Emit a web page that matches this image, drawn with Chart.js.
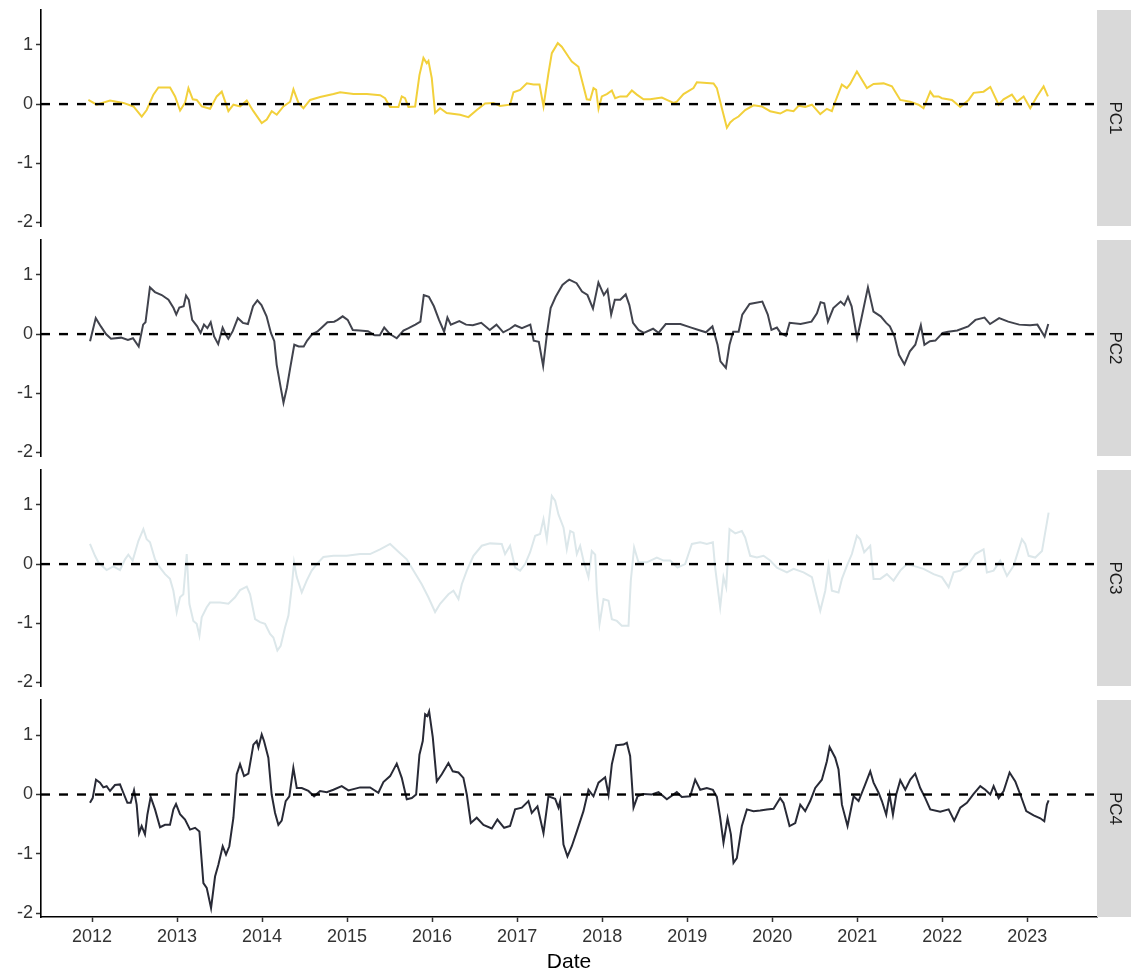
<!DOCTYPE html>
<html lang="en">
<head>
    <meta charset="UTF-8">
    <title>PC1 - PC4</title>
    <script src="https://cdn.jsdelivr.net/npm/chart.js"></script>
    <style>
        body { margin: 0; background: #ffffff; }
        #wrap { position: relative; width: 1131px; height: 978px; overflow: hidden; }
        .panel { position: absolute; left: 0; width: 1131px; }
    </style>
</head>
<body>
    <div id="wrap">
        <div class="panel" id="p1"><canvas id="c1"></canvas></div>
        <div class="panel" id="p2"><canvas id="c2"></canvas></div>
        <div class="panel" id="p3"><canvas id="c3"></canvas></div>
        <div class="panel" id="p4"><canvas id="c4"></canvas></div>
    </div>

    <script>
        // axis ranges and ticks
        const xMin = 2011.40, xMax = 2023.82;
        const yMin = -2.06, yMax = 1.59;
        const yTicks = [-2, -1, 0, 1];
        const xTicks = [2012, 2013, 2014, 2015, 2016, 2017, 2018, 2019, 2020, 2021, 2022, 2023];
        const panelNames = ['PC1', 'PC2', 'PC3', 'PC4'];
        const lineColors = ['#f2d03b', '#41434d', '#dce7ea', '#282a36'];

        // dates are decimal years
        const pc1Dates = [
            2011.957, 2012.055, 2012.212, 2012.369, 2012.487, 2012.585, 2012.643, 2012.722, 2012.781, 2012.918,
            2012.977, 2013.036, 2013.094, 2013.134, 2013.185, 2013.232, 2013.291, 2013.389, 2013.467, 2013.526,
            2013.604, 2013.663, 2013.742, 2013.820, 2013.898, 2013.996, 2014.055, 2014.114, 2014.173, 2014.251,
            2014.330, 2014.369, 2014.428, 2014.487, 2014.565, 2014.683, 2014.840, 2014.918, 2015.075, 2015.232,
            2015.389,
            2015.447, 2015.506, 2015.604, 2015.643, 2015.682, 2015.721, 2015.800, 2015.851, 2015.898, 2015.937,
            2015.957, 2015.996, 2016.035, 2016.094, 2016.172, 2016.329, 2016.427, 2016.525, 2016.623, 2016.721,
            2016.800, 2016.917, 2016.957, 2017.035, 2017.114, 2017.192, 2017.263, 2017.310, 2017.368, 2017.408,
            2017.478, 2017.525, 2017.604, 2017.643, 2017.721, 2017.780, 2017.819, 2017.859, 2017.898, 2017.929,
            2017.957, 2017.996, 2018.055, 2018.114, 2018.153, 2018.212, 2018.290, 2018.349, 2018.408, 2018.486,
            2018.565, 2018.643, 2018.702, 2018.761, 2018.839, 2018.878, 2018.957, 2019.074, 2019.114, 2019.310,
            2019.349, 2019.408, 2019.467, 2019.506, 2019.545, 2019.604, 2019.682, 2019.780,
            2019.878, 2019.976, 2020.094, 2020.172, 2020.251, 2020.310, 2020.388, 2020.467, 2020.565, 2020.643,
            2020.702, 2020.741, 2020.819, 2020.878, 2020.917, 2020.996, 2021.055, 2021.114, 2021.192, 2021.310,
            2021.408, 2021.447, 2021.506, 2021.623, 2021.721, 2021.780, 2021.859, 2021.898, 2021.957, 2021.996,
            2022.114, 2022.212, 2022.310, 2022.369, 2022.486, 2022.565, 2022.663, 2022.721, 2022.819, 2022.878,
            2022.957, 2023.035, 2023.114, 2023.192, 2023.243
        ];
        const pc1Values = [
            0.07, -0.01, 0.06, 0.02, -0.04, -0.21, -0.10, 0.16, 0.28, 0.28,
            0.13, -0.11, 0.02, 0.27, 0.08, 0.07, -0.04, -0.08, 0.13, 0.21,
            -0.12, -0.01, -0.04, 0.06, -0.12, -0.32, -0.26, -0.12, -0.18, -0.04,
            0.04, 0.25, 0.02, -0.07, 0.07, 0.12, 0.17, 0.20, 0.17, 0.17,
            0.15,
            0.10, -0.05, -0.05, 0.13, 0.10, -0.05, -0.04, 0.49, 0.78, 0.69,
            0.73, 0.44, -0.15, -0.07, -0.15, -0.18, -0.22, -0.10, 0.01, 0.02,
            -0.03, -0.01, 0.20, 0.24, 0.35, 0.33, 0.33, -0.04, 0.52, 0.86,
            1.03, 0.97, 0.80, 0.72, 0.63, 0.30, 0.08, 0.07, 0.27, 0.24,
            -0.08, 0.13, 0.17, 0.23, 0.10, 0.13, 0.13, 0.23, 0.16, 0.08,
            0.08, 0.10, 0.11, 0.07, 0.02, 0.04, 0.17, 0.27, 0.37, 0.35,
            0.27, -0.07, -0.40, -0.31, -0.26, -0.21, -0.10, -0.02,
            -0.04, -0.12, -0.16, -0.10, -0.12, -0.03, -0.05, -0.01, -0.17, -0.08,
            -0.12, 0.04, 0.33, 0.27, 0.34, 0.55, 0.41, 0.27, 0.34, 0.35,
            0.30, 0.21, 0.07, 0.04, -0.01, -0.07, 0.21, 0.13, 0.13, 0.10,
            0.07, -0.05, 0.07, 0.19, 0.21, 0.29, -0.01, 0.08, 0.16, 0.04,
            0.13, -0.07, 0.13, 0.30, 0.13
        ];

        const pc2Dates = [
            2011.977, 2012.044, 2012.104, 2012.164, 2012.223, 2012.343, 2012.422, 2012.482, 2012.549, 2012.601,
            2012.629, 2012.681, 2012.740, 2012.820, 2012.899, 2012.959, 2012.991, 2013.027, 2013.078, 2013.106,
            2013.138, 2013.178, 2013.237, 2013.277, 2013.317, 2013.357, 2013.396, 2013.436, 2013.484, 2013.536,
            2013.575, 2013.603, 2013.655, 2013.715, 2013.774, 2013.834, 2013.894, 2013.945, 2013.993, 2014.053,
            2014.104, 2014.144, 2014.172, 2014.220, 2014.252, 2014.291, 2014.331, 2014.379, 2014.431, 2014.490,
            2014.530, 2014.590, 2014.649, 2014.709, 2014.769, 2014.848, 2014.888, 2014.948, 2015.007, 2015.067,
            2015.147, 2015.246, 2015.325, 2015.385, 2015.437, 2015.504, 2015.584, 2015.663, 2015.723, 2015.803,
            2015.862, 2015.902, 2015.962, 2016.021, 2016.081, 2016.141, 2016.180, 2016.220, 2016.320, 2016.399,
            2016.479, 2016.578, 2016.678, 2016.757, 2016.837, 2016.916, 2016.976, 2017.056, 2017.155, 2017.195,
            2017.255, 2017.306, 2017.354, 2017.394, 2017.453, 2017.533, 2017.593,
            2017.613, 2017.699, 2017.763, 2017.827, 2017.892, 2017.956, 2018.020, 2018.063, 2018.106, 2018.149,
            2018.213, 2018.277, 2018.320, 2018.363, 2018.427, 2018.491, 2018.599, 2018.663, 2018.748, 2018.920,
            2019.048, 2019.134, 2019.220, 2019.297, 2019.357, 2019.391, 2019.455, 2019.498, 2019.541, 2019.605,
            2019.648, 2019.734, 2019.884, 2019.948, 2019.991, 2020.055, 2020.098, 2020.162, 2020.205, 2020.334,
            2020.462, 2020.526, 2020.569, 2020.612, 2020.655, 2020.719, 2020.805, 2020.848, 2020.891, 2020.934,
            2020.998, 2021.041, 2021.126, 2021.191, 2021.276, 2021.341, 2021.384, 2021.439, 2021.491, 2021.555,
            2021.619, 2021.683, 2021.748, 2021.790, 2021.855, 2021.919, 2022.005, 2022.069, 2022.176, 2022.305,
            2022.390, 2022.497, 2022.562, 2022.669, 2022.776, 2022.905, 2023.033, 2023.119, 2023.204, 2023.247
        ];
        const pc2Values = [
            -0.12, 0.27, 0.13, 0.00, -0.08, -0.06, -0.10, -0.07, -0.21, 0.16,
            0.20, 0.79, 0.71, 0.66, 0.58, 0.44, 0.33, 0.45, 0.47, 0.65,
            0.58, 0.24, 0.13, 0.02, 0.16, 0.10, 0.20, -0.04, -0.17, 0.11,
            -0.01, -0.08, 0.05, 0.27, 0.19, 0.17, 0.47, 0.57, 0.49, 0.30,
            0.02, -0.12, -0.52, -0.91, -1.16, -0.91, -0.57, -0.18, -0.21, -0.21,
            -0.11, 0.00, 0.04, 0.12, 0.20, 0.21, 0.24, 0.30, 0.24, 0.07,
            0.06, 0.05, -0.02, -0.02, 0.11, 0.00, -0.07, 0.06, 0.10, 0.16,
            0.21, 0.66, 0.63, 0.47, 0.24, 0.04, 0.28, 0.16, 0.22, 0.16,
            0.15, 0.19, 0.07, 0.16, 0.03, 0.09, 0.15, 0.10, 0.16, -0.11,
            -0.13, -0.54, 0.04, 0.44, 0.63, 0.83, 0.90,
            0.92, 0.86, 0.72, 0.66, 0.43, 0.87, 0.66, 0.75, 0.33, 0.58,
            0.58, 0.67, 0.49, 0.19, 0.07, 0.02, 0.09, 0.02, 0.17, 0.17,
            0.11, 0.07, 0.03, 0.13, -0.18, -0.46, -0.57, -0.18, 0.04, 0.04,
            0.33, 0.51, 0.55, 0.33, 0.07, 0.11, 0.02, -0.03, 0.19, 0.17,
            0.21, 0.35, 0.54, 0.52, 0.21, 0.44, 0.55, 0.49, 0.63, 0.47,
            -0.07, 0.21, 0.79, 0.38, 0.30, 0.19, 0.13, -0.04, -0.35, -0.51,
            -0.29, -0.18, 0.15, -0.18, -0.12, -0.11, 0.02, 0.04, 0.06, 0.13,
            0.24, 0.28, 0.17, 0.27, 0.21, 0.16, 0.15, 0.16, -0.04, 0.17
        ];

        const pc3Dates = [
            2011.976, 2012.035, 2012.074, 2012.172, 2012.251, 2012.329, 2012.388, 2012.427, 2012.478, 2012.545,
            2012.604, 2012.643, 2012.682, 2012.741, 2012.800, 2012.859, 2012.917, 2012.957, 2012.996, 2013.035,
            2013.074, 2013.114, 2013.145, 2013.192, 2013.231, 2013.263, 2013.290, 2013.349, 2013.388, 2013.506,
            2013.604, 2013.682, 2013.741, 2013.820, 2013.859, 2013.918, 2013.976, 2014.035, 2014.094, 2014.133,
            2014.180, 2014.219, 2014.270, 2014.310, 2014.349, 2014.376, 2014.408, 2014.467, 2014.525, 2014.584,
            2014.643, 2014.721, 2014.839, 2014.996, 2015.153, 2015.270, 2015.388, 2015.506, 2015.604, 2015.702,
            2015.780, 2015.878, 2015.956, 2016.035, 2016.094, 2016.192, 2016.251, 2016.310, 2016.349, 2016.408,
            2016.486, 2016.584, 2016.682, 2016.819, 2016.858, 2016.917, 2016.976, 2017.035, 2017.094, 2017.153,
            2017.212, 2017.270, 2017.310, 2017.349, 2017.408, 2017.447, 2017.486,
            2017.545, 2017.584, 2017.624, 2017.663, 2017.702, 2017.741, 2017.780, 2017.839, 2017.878, 2017.918,
            2017.937, 2017.969, 2018.016, 2018.075, 2018.114, 2018.173, 2018.231, 2018.310, 2018.337, 2018.376,
            2018.427, 2018.525, 2018.643, 2018.722, 2018.800, 2018.886, 2018.976, 2019.055, 2019.153, 2019.231,
            2019.302, 2019.329, 2019.388, 2019.427, 2019.459, 2019.498, 2019.565, 2019.643, 2019.682, 2019.741,
            2019.820, 2019.898, 2019.976, 2020.055, 2020.173, 2020.251, 2020.369, 2020.467, 2020.506, 2020.565,
            2020.624, 2020.663, 2020.702, 2020.780, 2020.820, 2020.878, 2020.937, 2020.996, 2021.035, 2021.082,
            2021.153, 2021.192, 2021.271, 2021.349, 2021.427, 2021.506, 2021.584, 2021.663, 2021.780, 2021.898,
            2021.996, 2022.075, 2022.133, 2022.212, 2022.310, 2022.388, 2022.486, 2022.525, 2022.604, 2022.682,
            2022.761, 2022.839, 2022.937, 2022.976, 2023.016, 2023.094, 2023.173, 2023.251
        ];
        const pc3Values = [
            0.34, 0.14, 0.03, -0.10, -0.04, -0.10, 0.08, 0.16, 0.06, 0.39,
            0.59, 0.42, 0.37, 0.08, -0.06, -0.17, -0.25, -0.45, -0.81, -0.56,
            -0.51, 0.17, -0.67, -0.96, -1.01, -1.21, -0.90, -0.73, -0.65, -0.65,
            -0.67, -0.56, -0.44, -0.38, -0.51, -0.93, -0.98, -1.01, -1.18, -1.24,
            -1.46, -1.38, -1.07, -0.87, -0.39, 0.03, -0.22, -0.48, -0.28, -0.11,
            0.00, 0.12, 0.14, 0.14, 0.17, 0.17, 0.25, 0.34, 0.21, 0.08,
            -0.11, -0.34, -0.56, -0.81, -0.67, -0.51, -0.45, -0.59, -0.34, -0.11,
            0.14, 0.31, 0.35, 0.34, 0.17, 0.31, -0.06, -0.11, 0.00, 0.20,
            0.48, 0.51, 0.76, 0.42, 1.15, 1.07, 0.84,
            0.62, 0.25, 0.56, 0.53, 0.17, 0.31, 0.06, -0.22, 0.22, 0.16,
            -0.45, -1.01, -0.59, -0.62, -0.93, -0.96, -1.04, -1.04, -0.28, 0.28,
            0.03, 0.03, 0.11, 0.06, 0.06, -0.06, 0.00, 0.34, 0.37, 0.34,
            0.37, -0.06, -0.73, -0.22, -0.39, 0.59, 0.52, 0.56, 0.45, 0.14,
            0.11, 0.14, 0.06, -0.06, -0.14, -0.08, -0.14, -0.22, -0.45, -0.79,
            -0.45, -0.03, -0.45, -0.48, -0.25, -0.03, 0.17, 0.48, 0.42, 0.20,
            0.31, -0.25, -0.25, -0.17, -0.28, -0.11, 0.00, -0.03, -0.08, -0.17,
            -0.22, -0.39, -0.14, -0.11, 0.00, 0.17, 0.25, -0.14, -0.11, 0.06,
            -0.20, -0.03, 0.42, 0.34, 0.14, 0.11, 0.22, 0.87
        ];

        const pc4Dates = [
            2011.976, 2012.008, 2012.047, 2012.094, 2012.133, 2012.172, 2012.212, 2012.270, 2012.329, 2012.368,
            2012.416, 2012.455, 2012.494, 2012.525, 2012.553, 2012.584, 2012.623, 2012.651, 2012.690, 2012.741,
            2012.800, 2012.859, 2012.917, 2012.957, 2012.988, 2013.035, 2013.094, 2013.153, 2013.212, 2013.263,
            2013.310, 2013.349, 2013.400, 2013.447, 2013.486, 2013.537, 2013.576, 2013.615, 2013.663, 2013.702,
            2013.741, 2013.788, 2013.839, 2013.898, 2013.937, 2013.957, 2013.996, 2014.023, 2014.074, 2014.113,
            2014.153, 2014.192, 2014.231, 2014.278, 2014.321, 2014.368, 2014.408, 2014.467, 2014.545, 2014.612,
            2014.682, 2014.761, 2014.839, 2014.937, 2015.015, 2015.153, 2015.270, 2015.368, 2015.427, 2015.506,
            2015.584, 2015.643, 2015.702, 2015.761, 2015.812, 2015.851, 2015.890, 2015.918, 2015.945, 2015.965,
            2016.008, 2016.055, 2016.114, 2016.192, 2016.243, 2016.310, 2016.368, 2016.408, 2016.455, 2016.525,
            2016.604, 2016.702, 2016.768, 2016.847, 2016.917, 2016.976, 2017.055, 2017.133, 2017.172, 2017.239,
            2017.310, 2017.368, 2017.447, 2017.486,
            2017.506, 2017.545, 2017.592, 2017.643, 2017.702, 2017.780, 2017.839, 2017.898, 2017.957, 2018.035,
            2018.075, 2018.114, 2018.165, 2018.251, 2018.290, 2018.329, 2018.369, 2018.416, 2018.486, 2018.584,
            2018.663, 2018.761, 2018.878, 2018.937, 2019.035, 2019.094, 2019.153, 2019.231, 2019.302, 2019.349,
            2019.388, 2019.427, 2019.475, 2019.514, 2019.545, 2019.584, 2019.643, 2019.702, 2019.780, 2019.859,
            2019.937, 2020.016, 2020.094, 2020.133, 2020.204, 2020.271, 2020.330, 2020.388, 2020.447, 2020.506,
            2020.584, 2020.643, 2020.675, 2020.741, 2020.780, 2020.820, 2020.886, 2020.957, 2021.016, 2021.094,
            2021.153, 2021.192, 2021.251, 2021.290, 2021.341, 2021.380, 2021.420, 2021.459, 2021.506, 2021.565,
            2021.624, 2021.682, 2021.741, 2021.800, 2021.859, 2021.976, 2022.075, 2022.141, 2022.212, 2022.290,
            2022.369, 2022.447, 2022.506, 2022.565, 2022.604, 2022.663, 2022.722, 2022.792, 2022.859, 2022.918,
            2022.988, 2023.075, 2023.153, 2023.200, 2023.231, 2023.251
        ];
        const pc4Values = [
            -0.14, -0.06, 0.25, 0.20, 0.12, 0.14, 0.06, 0.16, 0.17, 0.03,
            -0.14, -0.14, 0.07, -0.17, -0.65, -0.53, -0.67, -0.34, -0.04, -0.25,
            -0.55, -0.51, -0.51, -0.25, -0.16, -0.33, -0.42, -0.59, -0.56, -0.62,
            -1.49, -1.57, -1.91, -1.38, -1.18, -0.87, -1.01, -0.87, -0.39, 0.34,
            0.51, 0.31, 0.35, 0.84, 0.90, 0.79, 1.01, 0.90, 0.62, 0.00,
            -0.31, -0.51, -0.44, -0.11, -0.03, 0.45, 0.11, 0.11, 0.06, -0.03,
            0.06, 0.04, 0.08, 0.14, 0.07, 0.12, 0.12, 0.03, 0.21, 0.31,
            0.52, 0.28, -0.08, -0.06, 0.00, 0.67, 0.90, 1.35, 1.32, 1.40,
            0.96, 0.22, 0.34, 0.53, 0.39, 0.37, 0.28, 0.00, -0.48, -0.39,
            -0.51, -0.57, -0.42, -0.56, -0.53, -0.25, -0.22, -0.11, -0.31, -0.20,
            -0.65, -0.03, -0.07, -0.22,
            -0.11, -0.84, -1.04, -0.87, -0.62, -0.28, 0.08, -0.03, 0.20, 0.29,
            0.00, 0.51, 0.83, 0.84, 0.87, 0.65, -0.22, -0.03, 0.01, 0.00,
            0.04, -0.08, 0.04, -0.04, -0.03, 0.25, 0.08, 0.11, 0.08, -0.04,
            -0.39, -0.81, -0.40, -0.67, -1.15, -1.07, -0.53, -0.25, -0.28, -0.27,
            -0.25, -0.24, -0.06, -0.14, -0.53, -0.48, -0.17, -0.28, -0.11, 0.11,
            0.25, 0.56, 0.80, 0.62, 0.42, -0.17, -0.53, -0.03, -0.11, 0.17,
            0.39, 0.20, 0.03, -0.11, -0.34, 0.00, -0.34, 0.00, 0.24, 0.08,
            0.25, 0.35, 0.11, -0.06, -0.25, -0.29, -0.25, -0.44, -0.22, -0.14,
            0.01, 0.14, 0.08, 0.00, 0.14, -0.06, 0.06, 0.37, 0.22, 0.00,
            -0.28, -0.35, -0.40, -0.45, -0.17, -0.10
        ];

        const seriesDates = [pc1Dates, pc2Dates, pc3Dates, pc4Dates];
        const seriesValues = [pc1Values, pc2Values, pc3Values, pc4Values];

        const fontFamily = '"Liberation Sans", Arial, Helvetica, sans-serif';
        Chart.defaults.font.family = fontFamily;
        Chart.defaults.color = '#333333';

        // grey facet strip on the right, label turned sideways
        const stripPlugin = {
            id: 'strip',
            afterDraw(chart, args, opts) {
                const { ctx, chartArea } = chart;
                ctx.save();
                ctx.fillStyle = '#d9d9d9';
                ctx.fillRect(chartArea.right, chartArea.top, chart.width - chartArea.right, chartArea.bottom - chartArea.top);
                ctx.translate((chartArea.right + chart.width) / 2 + 1, (chartArea.top + chartArea.bottom) / 2);
                ctx.rotate(Math.PI / 2);
                ctx.fillStyle = '#1a1a1a';
                ctx.font = '17px ' + fontFamily;
                ctx.textAlign = 'center';
                ctx.textBaseline = 'middle';
                ctx.fillText(opts.label, 0, 0);
                ctx.restore();
            }
        };

        function toPoints(dates, values) {
            return dates.map((d, i) => ({ x: d, y: values[i] }));
        }

        const PANEL_STEP = 230;
        const PAD = 15;

        function makePanel(i) {
            const last = i === panelNames.length - 1;
            const box = document.getElementById('p' + (i + 1));
            const top = PANEL_STEP * i + 10 - PAD;
            box.style.top = top + 'px';
            box.style.height = (last ? 978 - top : 216 + 2 * PAD) + 'px';

            new Chart(document.getElementById('c' + (i + 1)), {
                type: 'line',
                data: {
                    datasets: [
                        {
                            // dashed zero reference, drawn on top
                            data: [{ x: xMin, y: 0 }, { x: xMax, y: 0 }],
                            borderColor: '#000000',
                            borderWidth: 2.4,
                            borderDash: [9, 9],
                            pointRadius: 0
                        },
                        {
                            label: panelNames[i],
                            data: toPoints(seriesDates[i], seriesValues[i]),
                            borderColor: lineColors[i],
                            borderWidth: 2,
                            pointRadius: 0,
                            tension: 0
                        }
                    ]
                },
                options: {
                    responsive: true,
                    maintainAspectRatio: false,
                    animation: false,
                    events: [],
                    layout: { padding: { top: PAD, bottom: last ? 0 : PAD, left: 0, right: 34 } },
                    plugins: {
                        legend: { display: false },
                        tooltip: { enabled: false },
                        strip: { label: panelNames[i] }
                    },
                    scales: {
                        x: {
                            type: 'linear',
                            min: xMin,
                            max: xMax,
                            display: last,
                            afterBuildTicks: s => { s.ticks = xTicks.map(v => ({ value: v })); },
                            afterFit: s => { s.height = last ? 61 : 0; },
                            ticks: {
                                callback: v => String(v),
                                font: { size: 18 },
                                color: '#333333',
                                padding: 4,
                                maxRotation: 0
                            },
                            grid: { display: true, drawOnChartArea: false, drawTicks: true, tickLength: 5, tickColor: '#333333', tickWidth: 1.5 },
                            border: { display: true, color: '#000000', width: 1.6 },
                            title: {
                                display: true,
                                text: 'Date',
                                font: { size: 21 },
                                color: '#000000',
                                padding: { top: 0, bottom: 3 }
                            }
                        },
                        y: {
                            min: yMin,
                            max: yMax,
                            afterBuildTicks: s => { s.ticks = yTicks.map(v => ({ value: v })); },
                            afterFit: s => { s.width = 41; },
                            ticks: {
                                callback: v => String(v),
                                font: { size: 18 },
                                color: '#333333',
                                padding: 3
                            },
                            grid: { display: true, drawOnChartArea: false, drawTicks: true, tickLength: 5, tickColor: '#333333', tickWidth: 1.5 },
                            border: { display: true, color: '#000000', width: 1.6 }
                        }
                    }
                },
                plugins: [stripPlugin]
            });
        }

        panelNames.forEach((name, i) => makePanel(i));
    </script>
</body>
</html>
